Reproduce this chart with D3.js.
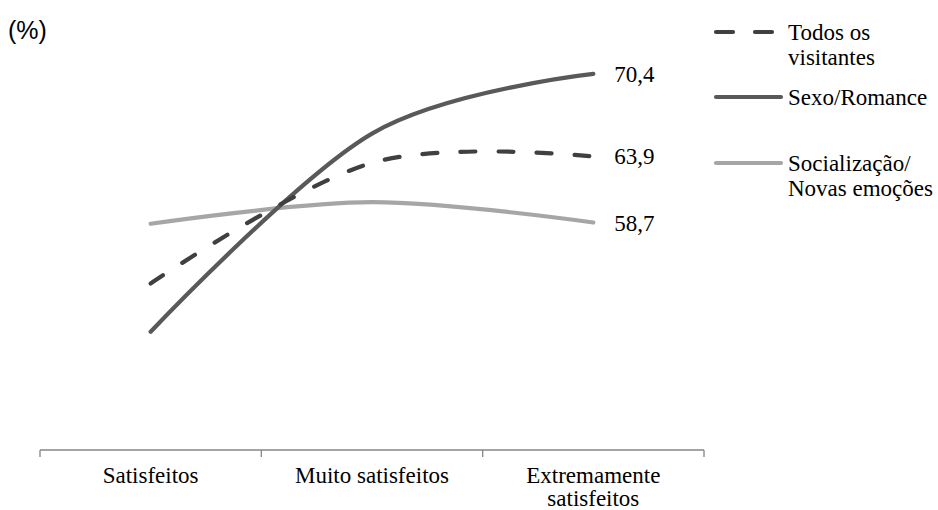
<!DOCTYPE html>
<html>
<head>
<meta charset="utf-8">
<script src="https://cdn.jsdelivr.net/npm/d3@7"></script>
<style>
  html, body { margin: 0; padding: 0; background: #fff; }
  svg { display: block; }
</style>
</head>
<body>
<svg id="chart" width="938" height="510"></svg>
<script>
// ---- data ----
const categories = ["Satisfeitos", "Muito satisfeitos", "Extremamente satisfeitos"];
const seriesNames = ["Todos os visitantes", "Sexo/Romance", "Socialização/ Novas emoções"];
const legendLines = [["Todos os", "visitantes"], ["Sexo/Romance"], ["Socialização/", "Novas emoções"]];
const todosValues = [53.9, 63.4, 63.9];
const sexoValues = [50.1, 65.7, 70.4];
const socialValues = [58.6, 60.3, 58.7];
const endLabels = ["63,9", "70,4", "58,7"];
const unitLabel = "(%)";

const series = [
  { name: seriesNames[0], lines: legendLines[0], values: todosValues, color: "#404040", dash: "15,23", label: endLabels[0] },
  { name: seriesNames[1], lines: legendLines[1], values: sexoValues, color: "#595959", dash: null, label: endLabels[1] },
  { name: seriesNames[2], lines: legendLines[2], values: socialValues, color: "#a6a6a6", dash: null, label: endLabels[2] }
];

const svg = d3.select("#chart");
const serif = "'Liberation Serif', 'Times New Roman', serif";
const fs = 23;

const x = d3.scaleBand().domain(categories).range([40, 704]);
const y = d3.scaleLinear().domain([41, 75]).range([447.3, 15.5]);
const axisY = 450;

// unit label
svg.append("text").attr("x", 8).attr("y", 39)
  .attr("font-family", "'Liberation Sans', Arial, sans-serif").attr("font-size", 25)
  .attr("fill", "#000").text(unitLabel);

// x axis
const axisG = svg.append("g").attr("transform", `translate(0,${axisY})`);
axisG.append("line").attr("x1", x.range()[0]).attr("x2", x.range()[1])
  .attr("stroke", "#868686").attr("stroke-width", 1.3);
const boundaries = categories.map(c => x(c)).concat([x.range()[1]]);
axisG.selectAll("line.tick").data(boundaries).join("line").attr("class", "tick")
  .attr("x1", d => d).attr("x2", d => d).attr("y1", 0).attr("y2", 7)
  .attr("stroke", "#868686").attr("stroke-width", 1.3);

const catLabels = axisG.selectAll("text.cat").data(categories).join("text")
  .attr("class", "cat")
  .attr("x", d => x(d) + x.bandwidth() / 2)
  .attr("y", 33)
  .attr("text-anchor", "middle")
  .attr("font-family", serif).attr("font-size", fs).attr("fill", "#000");
catLabels.each(function(d) {
  const t = d3.select(this);
  const words = d.split(" ");
  let lines = [], cur = [];
  words.forEach(w => {
    cur.push(w);
    t.text(cur.join(" "));
    if (this.getComputedTextLength() > 200 && cur.length > 1) {
      cur.pop(); lines.push(cur.join(" ")); cur = [w];
    }
  });
  lines.push(cur.join(" "));
  t.text(null);
  lines.forEach((l, i) => t.append("tspan").attr("x", x(d) + x.bandwidth() / 2)
    .attr("dy", i === 0 ? 0 : 23).text(l));
});

// lines
const line = d3.line()
  .x((d, i) => x(categories[i]) + x.bandwidth() / 2)
  .y(d => y(d))
  .curve(d3.curveCardinal.tension(0));

const drawOrder = [series[2], series[1], series[0]];
svg.selectAll("path.series").data(drawOrder).join("path")
  .attr("class", "series")
  .attr("d", d => line(d.values))
  .attr("fill", "none")
  .attr("stroke", d => d.color)
  .attr("stroke-width", 4.2)
  .attr("stroke-linecap", "round")
  .attr("stroke-dasharray", d => d.dash);

// end labels
svg.selectAll("text.end").data(series).join("text")
  .attr("class", "end")
  .attr("x", x(categories[2]) + x.bandwidth() / 2 + 21)
  .attr("y", d => y(d.values[2]) + 8)
  .attr("font-family", serif).attr("font-size", fs).attr("fill", "#000")
  .text(d => d.label);

// legend
const legendY = [32, 97, 163];
const lg = svg.append("g");
series.forEach((s, i) => {
  const g = lg.append("g").attr("transform", `translate(0,${legendY[i]})`);
  g.append("line").attr("x1", 716).attr("x2", s.dash ? 774 : 781).attr("y1", 0).attr("y2", 0)
    .attr("stroke", s.color).attr("stroke-width", 4.2).attr("stroke-linecap", "round")
    .attr("stroke-dasharray", s.dash ? "17,22" : null);
  const t = g.append("text").attr("x", 788).attr("y", 8)
    .attr("font-family", serif).attr("font-size", fs).attr("fill", "#000");
  s.lines.forEach((p, j) => t.append("tspan").attr("x", 788).attr("dy", j === 0 ? 0 : 25).text(p));
});
</script>
</body>
</html>
